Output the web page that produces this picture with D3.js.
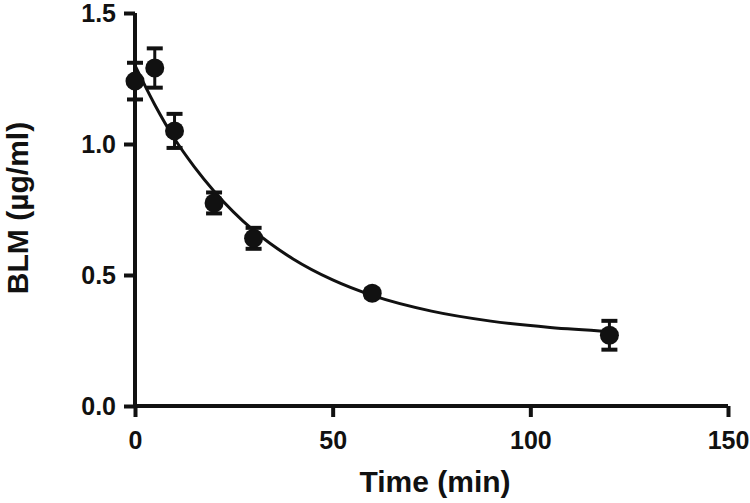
<!DOCTYPE html>
<html>
<meta charset="utf-8">
<head>
    <script src="https://d3js.org/d3.v7.min.js"></script>
    <style>
        body { margin: 0; background: white; }
        text { font-family: "Liberation Sans", Arial, sans-serif; font-weight: bold; fill: #111; }
    </style>
</head>
<body>
    <script>

        // measured points
        var times = [0, 5, 10, 20, 30, 60, 120];
        var blm = [1.24, 1.29, 1.05, 0.775, 0.64, 0.43, 0.27];
        var sem = [0.07, 0.075, 0.065, 0.04, 0.04, 0.015, 0.055];

        // fitted decay curve
        var fitT = [0, 5, 10, 15, 20, 30, 40, 50, 60, 75, 90, 105, 120];
        var fitY = [1.30, 1.15, 1.02, 0.913, 0.82, 0.67, 0.561, 0.481, 0.422, 0.362, 0.324, 0.30, 0.285];

        var xTicks = [0, 50, 100, 150];
        var yTicks = [0.0, 0.5, 1.0, 1.5];

        var width = 750,
            height = 503;

        var svg = d3.select("body").append("svg")
            .attr("width", width)
            .attr("height", height);

        var x = d3.scaleLinear().domain([0, 150]).range([135, 728]);
        var y = d3.scaleLinear().domain([0, 1.5]).range([406, 13]);

        var xAxis = svg.append("g")
            .attr("transform", "translate(0," + y(0) + ")")
            .call(d3.axisBottom(x).tickValues(xTicks).tickSize(11).tickPadding(14).tickFormat(d3.format("d")));

        var yAxis = svg.append("g")
            .attr("transform", "translate(" + x(0) + ",0)")
            .call(d3.axisLeft(y).tickValues(yTicks).tickSize(11).tickPadding(8).tickFormat(d3.format(".1f")));

        svg.selectAll(".domain").attr("stroke", "#111").attr("stroke-width", 4);
        xAxis.select(".domain").attr("d", "M" + x(0) + ",0H" + x(150));
        yAxis.select(".domain").attr("d", "M0," + y(0) + "V" + y(1.5));
        svg.selectAll(".tick line").attr("stroke", "#111").attr("stroke-width", 4);
        svg.selectAll(".tick text").style("font-size", "25px");

        svg.append("text")
            .attr("x", 435)
            .attr("y", 492)
            .attr("text-anchor", "middle")
            .style("font-size", "30px")
            .text("Time (min)");

        svg.append("text")
            .attr("transform", "translate(28,208) rotate(-90)")
            .attr("text-anchor", "middle")
            .style("font-size", "30px")
            .text("BLM (µg/ml)");

        var line = d3.line()
            .x(function(d, i) { return x(fitT[i]); })
            .y(function(d) { return y(d); })
            .curve(d3.curveMonotoneX);

        svg.append("path")
            .datum(fitY)
            .attr("d", line)
            .attr("fill", "none")
            .attr("stroke", "#111")
            .attr("stroke-width", 3);

        var pts = svg.selectAll(".pt")
            .data(times)
            .enter()
            .append("g")
            .attr("class", "pt");

        pts.append("line")
            .attr("x1", function(d) { return x(d); })
            .attr("x2", function(d) { return x(d); })
            .attr("y1", function(d, i) { return y(blm[i] - sem[i]); })
            .attr("y2", function(d, i) { return y(blm[i] + sem[i]); })
            .attr("stroke", "#111")
            .attr("stroke-width", 3);

        [1, -1].forEach(function(s) {
            pts.append("line")
                .attr("x1", function(d) { return x(d) - 8; })
                .attr("x2", function(d) { return x(d) + 8; })
                .attr("y1", function(d, i) { return y(blm[i] + s * sem[i]); })
                .attr("y2", function(d, i) { return y(blm[i] + s * sem[i]); })
                .attr("stroke", "#111")
                .attr("stroke-width", 4);
        });

        pts.append("circle")
            .attr("cx", function(d) { return x(d); })
            .attr("cy", function(d, i) { return y(blm[i]); })
            .attr("r", 9.5)
            .attr("fill", "#111");

    </script>
</body>
</html>
